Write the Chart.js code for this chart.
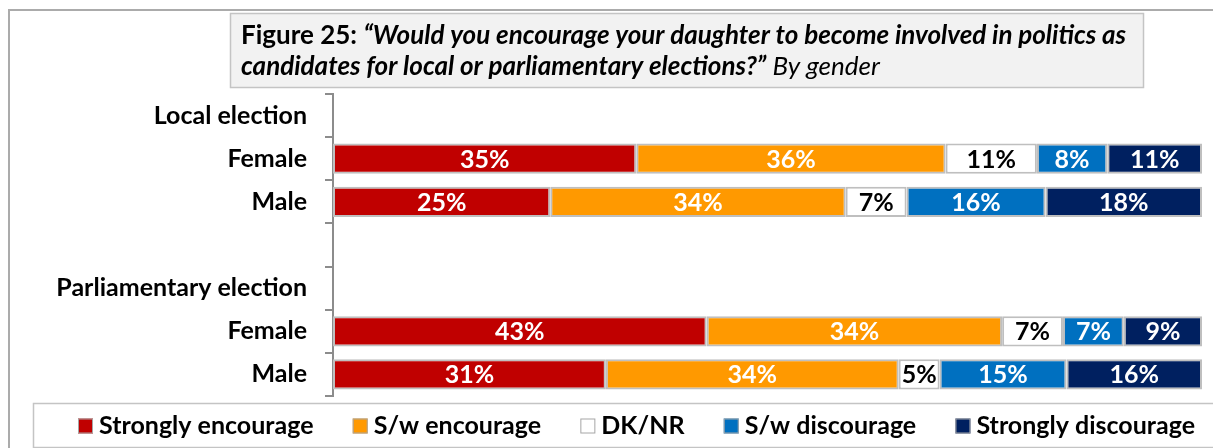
<!DOCTYPE html>
<html>
<head>
<meta charset="utf-8">
<script src="https://cdn.jsdelivr.net/npm/chart.js@4.4.0/dist/chart.umd.min.js"></script>
<style>
  html, body { margin: 0; padding: 0; background: #fff; }
  canvas { display: block; }
</style>
</head>
<body>
<canvas id="myBarChart" width="1213" height="448"></canvas>
<script>
var categories = ['Local election', 'Female', 'Male', '', 'Parliamentary election', 'Female', 'Male'];
var seriesNames = ['Strongly encourage', 'S/w encourage', 'DK/NR', 'S/w discourage', 'Strongly discourage'];

// values (percent); empty rows are group headers
var stronglyEncourage   = [null, 34.9, 25, null, null, 43, 31.4];
var swEncourage         = [null, 35.6, 34, null, null, 34, 33.7];
var dkNr                = [null, 10.5, 7,  null, null, 7,  4.7];
var swDiscourage        = [null, 8.1,  16, null, null, 7,  14.6];
var stronglyDiscourage  = [null, 10.9, 18, null, null, 9,  15.6];

var FONT = 'Lato';
var SIZE = 25;

var ctx = document.getElementById('myBarChart').getContext('2d');

var data = {
    labels: categories,
    datasets: [
        { label: seriesNames[0], backgroundColor: '#c00000', data: stronglyEncourage, textColor: '#fff' },
        { label: seriesNames[1], backgroundColor: '#ff9900', data: swEncourage, textColor: '#fff' },
        { label: seriesNames[2], backgroundColor: '#ffffff', data: dkNr, textColor: '#000' },
        { label: seriesNames[3], backgroundColor: '#0070c0', data: swDiscourage, textColor: '#fff' },
        { label: seriesNames[4], backgroundColor: '#002060', data: stronglyDiscourage, textColor: '#fff' }
    ]
};

// frame, title box, value labels and legend
var decorations = {
    id: 'decorations',
    beforeDraw: function (chart) {
        var c = chart.ctx;
        c.save();
        c.strokeStyle = '#ababab';
        c.lineWidth = 2;
        c.strokeRect(9, 10, 1400, 600);

        c.fillStyle = '#f2f2f2';
        c.fillRect(230.5, 13.5, 913, 74);
        c.strokeStyle = '#c4c4c4';
        c.lineWidth = 1.5;
        c.strokeRect(230.5, 13.5, 913, 74);

        var l1a = 'Figure 25: ';
        var l1b = '\u201cWould you encourage your daughter to become involved in politics as';
        var l2a = 'candidates for local or parliamentary elections?\u201d';
        var l2b = ' By gender';
        // fit the first line into the box width
        c.font = 'bold 100px ' + FONT;
        var w = c.measureText(l1a).width;
        c.font = 'italic bold 100px ' + FONT;
        w += c.measureText(l1b).width;
        var fs = Math.min(26, 100 * 893 / w);

        c.fillStyle = '#000';
        c.textBaseline = 'middle';
        c.textAlign = 'left';
        var x = 241;
        c.font = 'bold ' + fs + 'px ' + FONT;
        c.fillText(l1a, x, 36);
        x += c.measureText(l1a).width;
        c.font = 'italic bold ' + fs + 'px ' + FONT;
        c.fillText(l1b, x, 36);

        x = 241;
        c.fillText(l2a, x, 67);
        x += c.measureText(l2a).width;
        c.font = 'italic ' + fs + 'px ' + FONT;
        c.fillText(l2b, x, 67);

        c.strokeStyle = '#c4c4c4';
        c.lineWidth = 1.5;
        c.strokeRect(33.5, 403.5, 1300, 44);
        c.restore();
    },
    afterDatasetsDraw: function (chart) {
        var c = chart.ctx;
        c.save();
        c.font = 'bold ' + SIZE + 'px ' + FONT;
        c.textAlign = 'center';
        c.textBaseline = 'middle';
        chart.data.datasets.forEach(function (ds, i) {
            var meta = chart.getDatasetMeta(i);
            meta.data.forEach(function (bar, j) {
                var v = ds.data[j];
                if (v == null) return;
                var p = bar.getProps(['x', 'base', 'y'], true);
                c.fillStyle = ds.textColor;
                c.fillText(Math.round(v) + '%', (p.x + p.base) / 2, p.y + 1);
            });
        });
        c.restore();
    },
    afterDraw: function (chart) {
        var c = chart.ctx;
        c.save();
        c.font = 'bold ' + SIZE + 'px ' + FONT;
        c.textBaseline = 'middle';
        c.textAlign = 'left';
        var box = 15, gap = 6, start = 78, end = 1195, y = 426;
        var widths = chart.data.datasets.map(function (ds) {
            return box + gap + c.measureText(ds.label).width;
        });
        var total = widths.reduce(function (a, b) { return a + b; }, 0);
        var space = (end - start - total) / (widths.length - 1);
        var x = start;
        chart.data.datasets.forEach(function (ds, i) {
            c.fillStyle = ds.backgroundColor;
            c.fillRect(x, y - 7.5, box, box);
            c.strokeStyle = '#a6a6a6';
            c.lineWidth = 1;
            c.strokeRect(x + 0.5, y - 7, box - 1, box - 1);
            c.fillStyle = '#000';
            c.fillText(ds.label, x + box + gap, y);
            x += widths[i] + space;
        });
        c.restore();
    }
};

var options = {
    responsive: false,
    animation: false,
    indexAxis: 'y',
    layout: { padding: { top: 94, left: 20, right: 11, bottom: 52 } },
    datasets: {
        bar: {
            barPercentage: 0.7,
            categoryPercentage: 1,
            borderColor: '#bfbfbf',
            borderWidth: 2,
            borderSkipped: false
        }
    },
    scales: {
        x: { stacked: true, min: 0, max: 100, display: false },
        y: {
            stacked: true,
            afterFit: function (scale) { scale.width = 333 - 20; },
            grid: { drawOnChartArea: false, drawTicks: true, tickLength: 8, color: '#8c8c8c', lineWidth: 2 },
            border: { color: '#8c8c8c', width: 2 },
            ticks: { autoSkip: false, color: '#000', padding: 18, font: { family: FONT, size: SIZE, weight: 'bold' } }
        }
    },
    plugins: {
        legend: { display: false },
        tooltip: { enabled: false }
    }
};

var myBarChart = new Chart(ctx, {
    type: 'bar',
    data: data,
    options: options,
    plugins: [decorations]
});
</script>
</body>
</html>
